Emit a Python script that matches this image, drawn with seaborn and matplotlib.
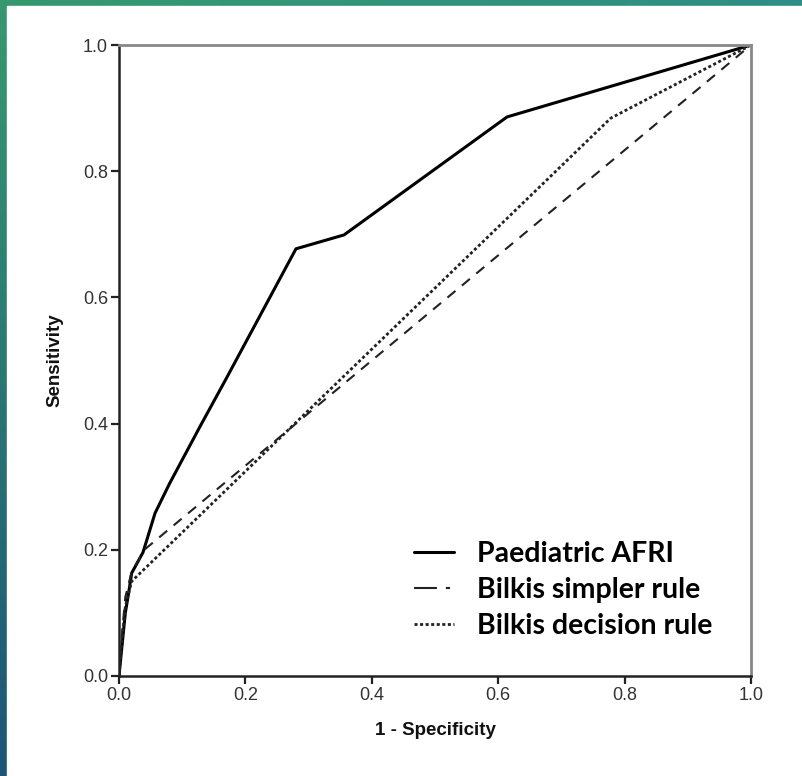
import numpy as np
import pandas as pd
import matplotlib
matplotlib.use("Agg")
import matplotlib.pyplot as plt
from matplotlib.patches import Rectangle
from matplotlib.lines import Line2D
import seaborn as sns

# ---- data ----
afri_fpr = [0.0, 0.005, 0.010, 0.015, 0.020, 0.038, 0.057, 0.080, 0.128, 0.170, 0.280, 0.356, 0.614, 1.0]
afri_tpr = [0.0, 0.050, 0.100, 0.130, 0.163, 0.196, 0.258, 0.305, 0.395, 0.472, 0.677, 0.699, 0.886, 1.0]

simple_fpr = [0.0, 0.005, 0.010, 0.020, 0.040, 1.0]
simple_tpr = [0.0, 0.070, 0.125, 0.165, 0.200, 1.0]

decision_fpr = [0.0, 0.005, 0.010, 0.015, 0.020, 0.778, 1.0]
decision_tpr = [0.0, 0.060, 0.110, 0.130, 0.150, 0.884, 1.0]

series_names = ["Paediatric AFRI", "Bilkis simpler rule", "Bilkis decision rule"]
x_ticks = [0.0, 0.2, 0.4, 0.6, 0.8, 1.0]
y_ticks = [0.0, 0.2, 0.4, 0.6, 0.8, 1.0]

W, H = 802, 776
sns.set_style("white")
plt.rcParams["font.family"] = ["Liberation Sans", "DejaVu Sans"]

fig = plt.figure(figsize=(W / 100, H / 100), dpi=100)

# background border gradient
bg = fig.add_axes([0, 0, 1, 1], zorder=-10)
tl = np.array(matplotlib.colors.to_rgb("#37996f"))
tr = np.array(matplotlib.colors.to_rgb("#2f8e86"))
bl = np.array(matplotlib.colors.to_rgb("#1d5478"))
br = np.array(matplotlib.colors.to_rgb("#1f6a80"))
u = np.linspace(0, 1, 200)[None, :, None]
v = np.linspace(0, 1, 200)[:, None, None]
img = (1 - v) * ((1 - u) * tl + u * tr) + v * ((1 - u) * bl + u * br)
bg.imshow(img, extent=[0, 1, 0, 1], aspect="auto", origin="upper")
bg.add_patch(Rectangle((7 / W, 0), 1, 1 - 6 / H, color="white"))
bg.set_xlim(0, 1)
bg.set_ylim(0, 1)
bg.axis("off")

ax = fig.add_axes([119 / W, 1 - 676 / H, 632 / W, 631 / H])
ax.set_facecolor("white")

df_a = pd.DataFrame({"fpr": afri_fpr, "tpr": afri_tpr})
df_s = pd.DataFrame({"fpr": simple_fpr, "tpr": simple_tpr})
df_d = pd.DataFrame({"fpr": decision_fpr, "tpr": decision_tpr})

sns.lineplot(data=df_a, x="fpr", y="tpr", ax=ax, sort=False, estimator=None,
             color="black", linewidth=2.2, solid_joinstyle="round")
sns.lineplot(data=df_s, x="fpr", y="tpr", ax=ax, sort=False, estimator=None,
             color="#222222", linewidth=1.5)
ax.lines[-1].set_dashes((5, 4))
sns.lineplot(data=df_d, x="fpr", y="tpr", ax=ax, sort=False, estimator=None,
             color="#222222", linewidth=2.0)
ax.lines[-1].set_dashes((1.1, 0.9))

ax.set_xlim(0, 1)
ax.set_ylim(0, 1)
ax.set_xticks(x_ticks)
ax.set_yticks(y_ticks)
ax.set_xticklabels([f"{t:.1f}" for t in x_ticks])
ax.set_yticklabels([f"{t:.1f}" for t in y_ticks])
ax.tick_params(axis="both", direction="out", length=6, width=1.6, color="#222222",
               labelsize=13, labelcolor="#333333", pad=2,
               bottom=True, left=True)

for side in ["left", "bottom"]:
    ax.spines[side].set_color("#222222")
    ax.spines[side].set_linewidth(1.8)
for side in ["top", "right"]:
    ax.spines[side].set_color("#888888")
    ax.spines[side].set_linewidth(2.0)

ax.set_xlabel("1 - Specificity", fontsize=13.5, fontweight="bold", color="#111111", labelpad=13)
ax.set_ylabel("Sensitivity", fontsize=13.5, fontweight="bold", color="#111111", labelpad=14)

handles = [
    Line2D([], [], color="black", linewidth=2.2),
    Line2D([], [], color="#222222", linewidth=1.5, dashes=(11, 4.3, 2, 50)),
    Line2D([], [], color="#222222", linewidth=2.0, dashes=(1.1, 0.9)),
]
leg = ax.legend(handles, series_names, loc="upper left", bbox_to_anchor=(0.427, 0.255),
                frameon=False, handlelength=1.4, handletextpad=0.8, labelspacing=0.36,
                prop={"family": "Lato", "weight": "bold", "size": 20.5})
for t in leg.get_texts():
    t.set_color("black")

fig.savefig("out.png", dpi=100)
